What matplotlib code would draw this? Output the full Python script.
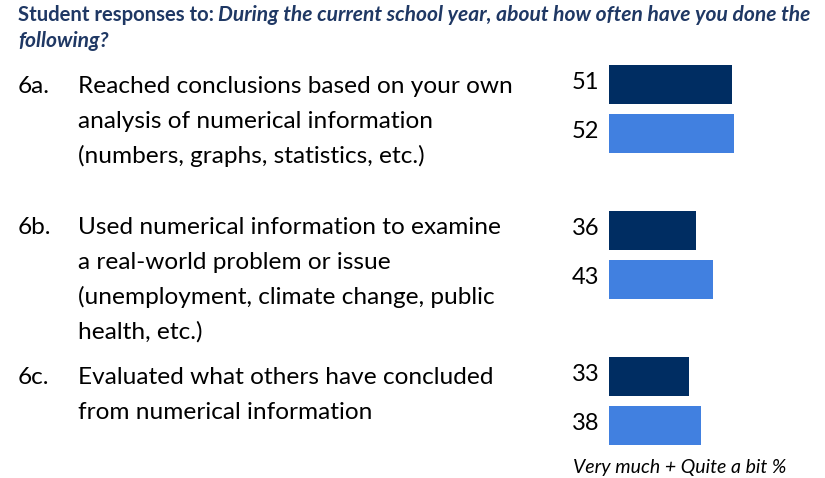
import matplotlib.pyplot as plt

# Percent answering "Very much" + "Quite a bit"
items = ["6a.", "6b.", "6c."]
item_lines = [
    ["Reached conclusions based on your own",
     "analysis of numerical information",
     "(numbers, graphs, statistics, etc.)"],
    ["Used numerical information to examine",
     "a real-world problem or issue",
     "(unemployment, climate change, public",
     "health, etc.)"],
    ["Evaluated what others have concluded",
     "from numerical information"],
]
first_year = [51, 36, 33]
senior = [52, 43, 38]

DARK = "#002D62"
LIGHT = "#4180E0"
TITLE = "#1F3864"

W, H = 825, 478
plt.rcParams["font.family"] = ["Lato", "DejaVu Sans"]
fig = plt.figure(figsize=(W / 100, H / 100), dpi=100)


def px(x, y):
    return x / W, 1 - y / H


# title
fig.text(*px(18, 21), "Student responses to:", fontsize=14.6, fontweight="bold",
         color=TITLE, va="baseline", ha="left")
fig.text(*px(218, 21), "During the current school year, about how often have you done the",
         fontsize=15.1, fontweight="bold", style="italic", color=TITLE,
         va="baseline", ha="left")
fig.text(*px(18, 47), "following?", fontsize=15.1, fontweight="bold", style="italic",
         color=TITLE, va="baseline", ha="left")

# bar axes: group i centred at 109 + 146*i px from the top
top_px = 109
group_px = 146
ax = fig.add_axes([609 / W, 0, (W - 609) / W, 1])
ax.set_xlim(0, (W - 609) / 2.41)
ax.set_ylim((H - top_px) / group_px, -top_px / group_px)
ax.axis("off")

off = 24.5 / group_px
h = 39 / group_px
pos = range(len(items))
ax.barh([p - off for p in pos], first_year, height=h, color=DARK)
ax.barh([p + off for p in pos], senior, height=h, color=LIGHT)
for p, a, b in zip(pos, first_year, senior):
    for val, yy in ((a, p - off), (b, p + off)):
        ax.annotate(str(val), (0, yy), xytext=(-7, -3), textcoords="offset points",
                    ha="right", va="baseline", fontsize=17)

# item labels, one baseline per line
first_base = [93, 234, 384]
line_step = 35
for num, lines, y0 in zip(items, item_lines, first_base):
    fig.text(*px(18, y0), num, fontsize=17.6, va="baseline", ha="left")
    for k, line in enumerate(lines):
        fig.text(*px(78, y0 + k * line_step), line, fontsize=17.6,
                 va="baseline", ha="left")

fig.text(*px(679.5, 473), "Very much + Quite a bit %", fontsize=14, style="italic",
         ha="center", va="baseline")

fig.savefig("out.png", dpi=100)
